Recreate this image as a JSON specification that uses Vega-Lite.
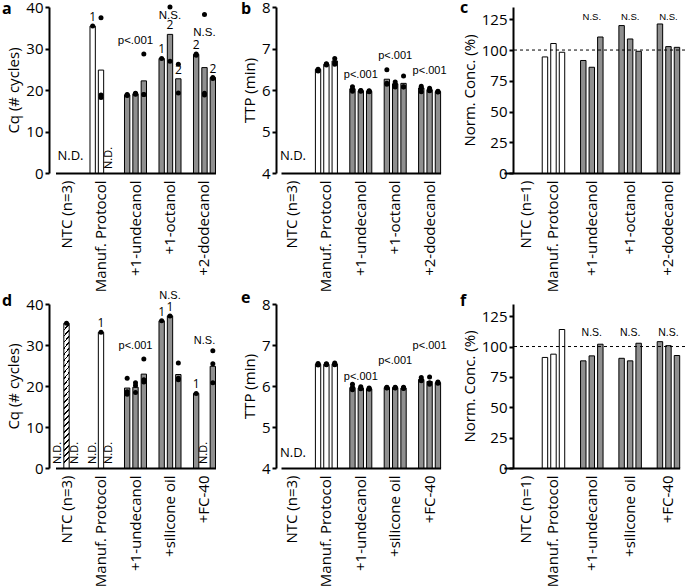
{
"$schema":"https://vega.github.io/schema/vega-lite/v6.json",
"padding":{"left":2,"top":0,"right":0,"bottom":0},
"datasets":{
"bars":[
{"p":"a","g":"Manuf. Protocol","r":1,"v":35.4,"k":"Manuf"},
{"p":"a","g":"Manuf. Protocol","r":2,"v":24.8,"k":"Manuf"},
{"p":"a","g":"+1-undecanol","r":1,"v":18.8,"k":"Additive"},
{"p":"a","g":"+1-undecanol","r":2,"v":19.1,"k":"Additive"},
{"p":"a","g":"+1-undecanol","r":3,"v":22.2,"k":"Additive"},
{"p":"a","g":"+1-octanol","r":1,"v":27.6,"k":"Additive"},
{"p":"a","g":"+1-octanol","r":2,"v":33.4,"k":"Additive"},
{"p":"a","g":"+1-octanol","r":3,"v":22.7,"k":"Additive"},
{"p":"a","g":"+2-dodecanol","r":1,"v":28.6,"k":"Additive"},
{"p":"a","g":"+2-dodecanol","r":2,"v":25.4,"k":"Additive"},
{"p":"a","g":"+2-dodecanol","r":3,"v":23.0,"k":"Additive"},
{"p":"b","g":"Manuf. Protocol","r":1,"v":6.50,"k":"Manuf"},
{"p":"b","g":"Manuf. Protocol","r":2,"v":6.62,"k":"Manuf"},
{"p":"b","g":"Manuf. Protocol","r":3,"v":6.70,"k":"Manuf"},
{"p":"b","g":"+1-undecanol","r":1,"v":6.03,"k":"Additive"},
{"p":"b","g":"+1-undecanol","r":2,"v":5.98,"k":"Additive"},
{"p":"b","g":"+1-undecanol","r":3,"v":5.97,"k":"Additive"},
{"p":"b","g":"+1-octanol","r":1,"v":6.26,"k":"Additive"},
{"p":"b","g":"+1-octanol","r":2,"v":6.15,"k":"Additive"},
{"p":"b","g":"+1-octanol","r":3,"v":6.16,"k":"Additive"},
{"p":"b","g":"+2-dodecanol","r":1,"v":6.05,"k":"Additive"},
{"p":"b","g":"+2-dodecanol","r":2,"v":6.01,"k":"Additive"},
{"p":"b","g":"+2-dodecanol","r":3,"v":5.96,"k":"Additive"},
{"p":"c","g":"Manuf. Protocol","r":1,"v":94.4,"k":"Manuf"},
{"p":"c","g":"Manuf. Protocol","r":2,"v":105.3,"k":"Manuf"},
{"p":"c","g":"Manuf. Protocol","r":3,"v":98.2,"k":"Manuf"},
{"p":"c","g":"+1-undecanol","r":1,"v":91.5,"k":"Additive"},
{"p":"c","g":"+1-undecanol","r":2,"v":86.0,"k":"Additive"},
{"p":"c","g":"+1-undecanol","r":3,"v":110.6,"k":"Additive"},
{"p":"c","g":"+1-octanol","r":1,"v":119.9,"k":"Additive"},
{"p":"c","g":"+1-octanol","r":2,"v":109.0,"k":"Additive"},
{"p":"c","g":"+1-octanol","r":3,"v":99.0,"k":"Additive"},
{"p":"c","g":"+2-dodecanol","r":1,"v":121.2,"k":"Additive"},
{"p":"c","g":"+2-dodecanol","r":2,"v":102.8,"k":"Additive"},
{"p":"c","g":"+2-dodecanol","r":3,"v":102.2,"k":"Additive"},
{"p":"d","g":"NTC (n=3)","r":2,"v":35.3,"k":"NTC"},
{"p":"d","g":"Manuf. Protocol","r":2,"v":33.1,"k":"Manuf"},
{"p":"d","g":"+1-undecanol","r":1,"v":19.5,"k":"Additive"},
{"p":"d","g":"+1-undecanol","r":2,"v":19.7,"k":"Additive"},
{"p":"d","g":"+1-undecanol","r":3,"v":22.9,"k":"Additive"},
{"p":"d","g":"+silicone oil","r":1,"v":35.9,"k":"Additive"},
{"p":"d","g":"+silicone oil","r":2,"v":37.1,"k":"Additive"},
{"p":"d","g":"+silicone oil","r":3,"v":22.8,"k":"Additive"},
{"p":"d","g":"+FC-40","r":1,"v":18.2,"k":"Additive"},
{"p":"d","g":"+FC-40","r":3,"v":24.8,"k":"Additive"},
{"p":"e","g":"Manuf. Protocol","r":1,"v":6.53,"k":"Manuf"},
{"p":"e","g":"Manuf. Protocol","r":2,"v":6.53,"k":"Manuf"},
{"p":"e","g":"Manuf. Protocol","r":3,"v":6.54,"k":"Manuf"},
{"p":"e","g":"+1-undecanol","r":1,"v":5.96,"k":"Additive"},
{"p":"e","g":"+1-undecanol","r":2,"v":5.95,"k":"Additive"},
{"p":"e","g":"+1-undecanol","r":3,"v":5.93,"k":"Additive"},
{"p":"e","g":"+silicone oil","r":1,"v":5.96,"k":"Additive"},
{"p":"e","g":"+silicone oil","r":2,"v":5.96,"k":"Additive"},
{"p":"e","g":"+silicone oil","r":3,"v":5.95,"k":"Additive"},
{"p":"e","g":"+FC-40","r":1,"v":6.16,"k":"Additive"},
{"p":"e","g":"+FC-40","r":2,"v":6.11,"k":"Additive"},
{"p":"e","g":"+FC-40","r":3,"v":6.08,"k":"Additive"},
{"p":"f","g":"Manuf. Protocol","r":1,"v":91.0,"k":"Manuf"},
{"p":"f","g":"Manuf. Protocol","r":2,"v":93.7,"k":"Manuf"},
{"p":"f","g":"Manuf. Protocol","r":3,"v":114.0,"k":"Manuf"},
{"p":"f","g":"+1-undecanol","r":1,"v":88.2,"k":"Additive"},
{"p":"f","g":"+1-undecanol","r":2,"v":92.3,"k":"Additive"},
{"p":"f","g":"+1-undecanol","r":3,"v":101.9,"k":"Additive"},
{"p":"f","g":"+silicone oil","r":1,"v":90.3,"k":"Additive"},
{"p":"f","g":"+silicone oil","r":2,"v":88.2,"k":"Additive"},
{"p":"f","g":"+silicone oil","r":3,"v":102.7,"k":"Additive"},
{"p":"f","g":"+FC-40","r":1,"v":104.0,"k":"Additive"},
{"p":"f","g":"+FC-40","r":2,"v":100.7,"k":"Additive"},
{"p":"f","g":"+FC-40","r":3,"v":92.6,"k":"Additive"}
],
"pts":[
{"p":"a","g":"Manuf. Protocol","r":1,"v":35.4},
{"p":"a","g":"Manuf. Protocol","r":2,"v":37.4},
{"p":"a","g":"Manuf. Protocol","r":2,"v":18.8},
{"p":"a","g":"Manuf. Protocol","r":2,"v":18.2},
{"p":"a","g":"+1-undecanol","r":1,"v":18.8},
{"p":"a","g":"+1-undecanol","r":1,"v":18.7},
{"p":"a","g":"+1-undecanol","r":1,"v":18.9},
{"p":"a","g":"+1-undecanol","r":2,"v":19.1},
{"p":"a","g":"+1-undecanol","r":2,"v":19.2},
{"p":"a","g":"+1-undecanol","r":2,"v":19.0},
{"p":"a","g":"+1-undecanol","r":3,"v":28.7},
{"p":"a","g":"+1-undecanol","r":3,"v":18.9},
{"p":"a","g":"+1-undecanol","r":3,"v":18.9},
{"p":"a","g":"+1-octanol","r":1,"v":27.6},
{"p":"a","g":"+1-octanol","r":2,"v":40.0},
{"p":"a","g":"+1-octanol","r":2,"v":26.9},
{"p":"a","g":"+1-octanol","r":3,"v":26.2},
{"p":"a","g":"+1-octanol","r":3,"v":19.3},
{"p":"a","g":"+2-dodecanol","r":1,"v":28.7},
{"p":"a","g":"+2-dodecanol","r":1,"v":28.4},
{"p":"a","g":"+2-dodecanol","r":2,"v":38.2},
{"p":"a","g":"+2-dodecanol","r":2,"v":19.2},
{"p":"a","g":"+2-dodecanol","r":2,"v":18.8},
{"p":"a","g":"+2-dodecanol","r":3,"v":23.0},
{"p":"a","g":"+2-dodecanol","r":3,"v":22.8},
{"p":"b","g":"Manuf. Protocol","r":1,"v":6.50},
{"p":"b","g":"Manuf. Protocol","r":1,"v":6.46},
{"p":"b","g":"Manuf. Protocol","r":1,"v":6.48},
{"p":"b","g":"Manuf. Protocol","r":2,"v":6.62},
{"p":"b","g":"Manuf. Protocol","r":2,"v":6.60},
{"p":"b","g":"Manuf. Protocol","r":2,"v":6.63},
{"p":"b","g":"Manuf. Protocol","r":3,"v":6.76},
{"p":"b","g":"Manuf. Protocol","r":3,"v":6.66},
{"p":"b","g":"Manuf. Protocol","r":3,"v":6.62},
{"p":"b","g":"+1-undecanol","r":1,"v":6.08},
{"p":"b","g":"+1-undecanol","r":1,"v":6.01},
{"p":"b","g":"+1-undecanol","r":1,"v":5.97},
{"p":"b","g":"+1-undecanol","r":2,"v":5.99},
{"p":"b","g":"+1-undecanol","r":2,"v":5.97},
{"p":"b","g":"+1-undecanol","r":2,"v":5.98},
{"p":"b","g":"+1-undecanol","r":3,"v":5.98},
{"p":"b","g":"+1-undecanol","r":3,"v":5.97},
{"p":"b","g":"+1-undecanol","r":3,"v":5.96},
{"p":"b","g":"+1-octanol","r":1,"v":6.49},
{"p":"b","g":"+1-octanol","r":1,"v":6.16},
{"p":"b","g":"+1-octanol","r":1,"v":6.14},
{"p":"b","g":"+1-octanol","r":2,"v":6.19},
{"p":"b","g":"+1-octanol","r":2,"v":6.13},
{"p":"b","g":"+1-octanol","r":2,"v":6.07},
{"p":"b","g":"+1-octanol","r":3,"v":6.34},
{"p":"b","g":"+1-octanol","r":3,"v":6.08},
{"p":"b","g":"+1-octanol","r":3,"v":6.07},
{"p":"b","g":"+2-dodecanol","r":1,"v":6.09},
{"p":"b","g":"+2-dodecanol","r":1,"v":6.04},
{"p":"b","g":"+2-dodecanol","r":1,"v":5.96},
{"p":"b","g":"+2-dodecanol","r":2,"v":6.04},
{"p":"b","g":"+2-dodecanol","r":2,"v":5.99},
{"p":"b","g":"+2-dodecanol","r":2,"v":5.98},
{"p":"b","g":"+2-dodecanol","r":3,"v":5.97},
{"p":"b","g":"+2-dodecanol","r":3,"v":5.95},
{"p":"b","g":"+2-dodecanol","r":3,"v":5.96},
{"p":"d","g":"NTC (n=3)","r":2,"v":35.3},
{"p":"d","g":"Manuf. Protocol","r":2,"v":33.1},
{"p":"d","g":"+1-undecanol","r":1,"v":21.9},
{"p":"d","g":"+1-undecanol","r":1,"v":18.6},
{"p":"d","g":"+1-undecanol","r":1,"v":18.0},
{"p":"d","g":"+1-undecanol","r":2,"v":20.8},
{"p":"d","g":"+1-undecanol","r":2,"v":20.1},
{"p":"d","g":"+1-undecanol","r":2,"v":18.4},
{"p":"d","g":"+1-undecanol","r":3,"v":26.6},
{"p":"d","g":"+1-undecanol","r":3,"v":21.5},
{"p":"d","g":"+1-undecanol","r":3,"v":21.0},
{"p":"d","g":"+silicone oil","r":1,"v":35.9},
{"p":"d","g":"+silicone oil","r":2,"v":37.1},
{"p":"d","g":"+silicone oil","r":3,"v":25.6},
{"p":"d","g":"+silicone oil","r":3,"v":21.9},
{"p":"d","g":"+silicone oil","r":3,"v":21.5},
{"p":"d","g":"+FC-40","r":1,"v":18.2},
{"p":"d","g":"+FC-40","r":3,"v":28.6},
{"p":"d","g":"+FC-40","r":3,"v":25.4},
{"p":"d","g":"+FC-40","r":3,"v":20.8},
{"p":"e","g":"Manuf. Protocol","r":1,"v":6.53},
{"p":"e","g":"Manuf. Protocol","r":1,"v":6.51},
{"p":"e","g":"Manuf. Protocol","r":1,"v":6.55},
{"p":"e","g":"Manuf. Protocol","r":2,"v":6.53},
{"p":"e","g":"Manuf. Protocol","r":2,"v":6.52},
{"p":"e","g":"Manuf. Protocol","r":2,"v":6.54},
{"p":"e","g":"Manuf. Protocol","r":3,"v":6.56},
{"p":"e","g":"Manuf. Protocol","r":3,"v":6.52},
{"p":"e","g":"Manuf. Protocol","r":3,"v":6.53},
{"p":"e","g":"+1-undecanol","r":1,"v":6.04},
{"p":"e","g":"+1-undecanol","r":1,"v":5.97},
{"p":"e","g":"+1-undecanol","r":1,"v":5.91},
{"p":"e","g":"+1-undecanol","r":2,"v":5.98},
{"p":"e","g":"+1-undecanol","r":2,"v":5.95},
{"p":"e","g":"+1-undecanol","r":2,"v":5.93},
{"p":"e","g":"+1-undecanol","r":3,"v":5.95},
{"p":"e","g":"+1-undecanol","r":3,"v":5.93},
{"p":"e","g":"+1-undecanol","r":3,"v":5.92},
{"p":"e","g":"+silicone oil","r":1,"v":5.97},
{"p":"e","g":"+silicone oil","r":1,"v":5.95},
{"p":"e","g":"+silicone oil","r":1,"v":5.96},
{"p":"e","g":"+silicone oil","r":2,"v":5.97},
{"p":"e","g":"+silicone oil","r":2,"v":5.96},
{"p":"e","g":"+silicone oil","r":2,"v":5.95},
{"p":"e","g":"+silicone oil","r":3,"v":5.97},
{"p":"e","g":"+silicone oil","r":3,"v":5.94},
{"p":"e","g":"+silicone oil","r":3,"v":5.95},
{"p":"e","g":"+FC-40","r":1,"v":6.21},
{"p":"e","g":"+FC-40","r":1,"v":6.15},
{"p":"e","g":"+FC-40","r":1,"v":6.13},
{"p":"e","g":"+FC-40","r":2,"v":6.22},
{"p":"e","g":"+FC-40","r":2,"v":6.08},
{"p":"e","g":"+FC-40","r":2,"v":6.04},
{"p":"e","g":"+FC-40","r":3,"v":6.10},
{"p":"e","g":"+FC-40","r":3,"v":6.08},
{"p":"e","g":"+FC-40","r":3,"v":6.07}
],
"cnt":[
{"p":"a","g":"Manuf. Protocol","r":1,"v":35.4,"t":"1"},
{"p":"a","g":"+1-octanol","r":1,"v":27.6,"t":"1"},
{"p":"a","g":"+1-octanol","r":2,"v":33.4,"t":"2"},
{"p":"a","g":"+1-octanol","r":3,"v":22.7,"t":"2"},
{"p":"a","g":"+2-dodecanol","r":1,"v":28.6,"t":"2"},
{"p":"a","g":"+2-dodecanol","r":3,"v":23.0,"t":"2"},
{"p":"d","g":"Manuf. Protocol","r":2,"v":33.1,"t":"1"},
{"p":"d","g":"+silicone oil","r":1,"v":35.9,"t":"1"},
{"p":"d","g":"+silicone oil","r":2,"v":37.1,"t":"1"},
{"p":"d","g":"+FC-40","r":1,"v":18.2,"t":"1"}
],
"nd":[
{"p":"a","g":"Manuf. Protocol","r":3,"v":0,"t":"N.D."},
{"p":"d","g":"NTC (n=3)","r":1,"v":0,"t":"N.D."},
{"p":"d","g":"NTC (n=3)","r":3,"v":0,"t":"N.D."},
{"p":"d","g":"Manuf. Protocol","r":1,"v":0,"t":"N.D."},
{"p":"d","g":"Manuf. Protocol","r":3,"v":0,"t":"N.D."},
{"p":"d","g":"+FC-40","r":2,"v":0,"t":"N.D."}
],
"ndg":[
{"p":"a","g":"NTC (n=3)","v":0,"t":"N.D."},
{"p":"b","g":"NTC (n=3)","v":4,"t":"N.D."},
{"p":"e","g":"NTC (n=3)","v":4,"t":"N.D."}
],
"ann":[
{"p":"a","g":"+1-undecanol","v":31.8,"t":"p<.001"},
{"p":"a","g":"+1-octanol","v":37.8,"t":"N.S."},
{"p":"a","g":"+2-dodecanol","v":33.8,"t":"N.S."},
{"p":"b","g":"+1-undecanol","v":6.36,"t":"p<.001"},
{"p":"b","g":"+1-octanol","v":6.82,"t":"p<.001"},
{"p":"b","g":"+2-dodecanol","v":6.46,"t":"p<.001"},
{"p":"c","g":"+1-undecanol","v":126.6,"t":"N.S."},
{"p":"c","g":"+1-octanol","v":126.6,"t":"N.S."},
{"p":"c","g":"+2-dodecanol","v":126.6,"t":"N.S."},
{"p":"d","g":"+1-undecanol","v":29.7,"t":"p<.001"},
{"p":"d","g":"+silicone oil","v":42.0,"t":"N.S."},
{"p":"d","g":"+FC-40","v":30.9,"t":"N.S."},
{"p":"e","g":"+1-undecanol","v":6.23,"t":"p<.001"},
{"p":"e","g":"+silicone oil","v":6.62,"t":"p<.001"},
{"p":"e","g":"+FC-40","v":6.97,"t":"p<.001"},
{"p":"f","g":"+1-undecanol","v":111.4,"t":"N.S."},
{"p":"f","g":"+silicone oil","v":111.4,"t":"N.S."},
{"p":"f","g":"+FC-40","v":111.4,"t":"N.S."}
],
"ref":[{"p":"c","v":100},{"p":"f","v":100}]
},
"spacing":-3,
"resolve":{"scale":{"xOffset":"independent"}},
"vconcat":[
{"spacing":13,"resolve":{"scale":{"xOffset":"independent"}},"hconcat":[
{"spacing":20,"resolve":{"scale":{"xOffset":"independent"}},"hconcat":[
{"width":172,"height":166,
"title":{"text":"a","anchor":"start","frame":"group","dx":-47,"offset":-17},
"layer":[
{"data":{"name":"bars"},"transform":[{"filter":"datum.p=='a'"}],
"mark":{"type":"bar","stroke":"black","strokeWidth":1},
"encoding":{
"x":{"field":"g","type":"nominal","title":null,"scale":{"domain":["NTC (n=3)","Manuf. Protocol","+1-undecanol","+1-octanol","+2-dodecanol"],"range":[6.5,166.5],"paddingInner":0.362,"paddingOuter":0},"axis":{"ticks":false,"labelAngle":-90,"labelPadding":7,"labelOverlap":false}},
"xOffset":{"field":"r","type":"nominal","scale":{"domain":[1,2,3],"paddingInner":0.36,"paddingOuter":0}},
"y":{"field":"v","type":"quantitative","title":"Cq (# cycles)","scale":{"domain":[0,40],"nice":false},"axis":{"values":[0,10,20,30,40]}},
"fill":{"field":"k","type":"nominal","scale":{"domain":["Manuf","Additive"],"range":["white","#8f8f8f"]},"legend":null}}},
{"data":{"name":"pts"},"transform":[{"filter":"datum.p=='a'"}],
"mark":{"type":"circle","size":25,"color":"black","opacity":1},
"encoding":{
"x":{"field":"g","type":"nominal","title":null,"scale":{"domain":["NTC (n=3)","Manuf. Protocol","+1-undecanol","+1-octanol","+2-dodecanol"],"range":[6.5,166.5],"paddingInner":0.362,"paddingOuter":0},"axis":{"ticks":false,"labelAngle":-90,"labelPadding":7,"labelOverlap":false}},
"xOffset":{"field":"r","type":"nominal","scale":{"domain":[1,2,3],"paddingInner":0.36,"paddingOuter":0}},
"y":{"field":"v","type":"quantitative","title":"Cq (# cycles)","scale":{"domain":[0,40],"nice":false},"axis":{"values":[0,10,20,30,40]}}}},
{"data":{"name":"cnt"},"transform":[{"filter":"datum.p=='a'"}],
"mark":{"type":"text","baseline":"bottom","dy":-2,"fontSize":12,"font":"Open Sans","color":"black"},
"encoding":{
"x":{"field":"g","type":"nominal","title":null,"scale":{"domain":["NTC (n=3)","Manuf. Protocol","+1-undecanol","+1-octanol","+2-dodecanol"],"range":[6.5,166.5],"paddingInner":0.362,"paddingOuter":0},"axis":{"ticks":false,"labelAngle":-90,"labelPadding":7,"labelOverlap":false}},
"xOffset":{"field":"r","type":"nominal","scale":{"domain":[1,2,3],"paddingInner":0.36,"paddingOuter":0}},
"y":{"field":"v","type":"quantitative","title":"Cq (# cycles)","scale":{"domain":[0,40],"nice":false},"axis":{"values":[0,10,20,30,40]}},
"text":{"field":"t"}}},
{"data":{"name":"nd"},"transform":[{"filter":"datum.p=='a'"}],
"mark":{"type":"text","angle":270,"align":"left","baseline":"middle","dx":4,"fontSize":11,"font":"Open Sans","color":"black"},
"encoding":{
"x":{"field":"g","type":"nominal","title":null,"scale":{"domain":["NTC (n=3)","Manuf. Protocol","+1-undecanol","+1-octanol","+2-dodecanol"],"range":[6.5,166.5],"paddingInner":0.362,"paddingOuter":0},"axis":{"ticks":false,"labelAngle":-90,"labelPadding":7,"labelOverlap":false}},
"xOffset":{"field":"r","type":"nominal","scale":{"domain":[1,2,3],"paddingInner":0.36,"paddingOuter":0}},
"y":{"field":"v","type":"quantitative","title":"Cq (# cycles)","scale":{"domain":[0,40],"nice":false},"axis":{"values":[0,10,20,30,40]}},
"text":{"field":"t"}}},
{"data":{"name":"ndg"},"transform":[{"filter":"datum.p=='a'"}],
"mark":{"type":"text","baseline":"bottom","dy":-10,"dx":4,"fontSize":13,"font":"Open Sans","color":"black"},
"encoding":{
"x":{"field":"g","type":"nominal","title":null,"scale":{"domain":["NTC (n=3)","Manuf. Protocol","+1-undecanol","+1-octanol","+2-dodecanol"],"range":[6.5,166.5],"paddingInner":0.362,"paddingOuter":0},"axis":{"ticks":false,"labelAngle":-90,"labelPadding":7,"labelOverlap":false}},
"y":{"field":"v","type":"quantitative","title":"Cq (# cycles)","scale":{"domain":[0,40],"nice":false},"axis":{"values":[0,10,20,30,40]}},
"text":{"field":"t"}}},
{"data":{"name":"ann"},"transform":[{"filter":"datum.p=='a'"}],
"mark":{"type":"text","baseline":"middle","fontSize":11.5,"font":"Liberation Sans","color":"black"},
"encoding":{
"x":{"field":"g","type":"nominal","title":null,"scale":{"domain":["NTC (n=3)","Manuf. Protocol","+1-undecanol","+1-octanol","+2-dodecanol"],"range":[6.5,166.5],"paddingInner":0.362,"paddingOuter":0},"axis":{"ticks":false,"labelAngle":-90,"labelPadding":7,"labelOverlap":false}},
"y":{"field":"v","type":"quantitative","title":"Cq (# cycles)","scale":{"domain":[0,40],"nice":false},"axis":{"values":[0,10,20,30,40]}},
"text":{"field":"t"}}}
]},
{"width":170,"height":166,
"title":{"text":"b","anchor":"start","frame":"group","dx":-35,"offset":-17},
"layer":[
{"data":{"name":"bars"},"transform":[{"filter":"datum.p=='b'"}],
"mark":{"type":"bar","stroke":"black","strokeWidth":1},
"encoding":{
"x":{"field":"g","type":"nominal","title":null,"scale":{"domain":["NTC (n=3)","Manuf. Protocol","+1-undecanol","+1-octanol","+2-dodecanol"],"range":[5,164.6],"paddingInner":0.36,"paddingOuter":0},"axis":{"ticks":false,"labelAngle":-90,"labelPadding":7,"labelOverlap":false}},
"xOffset":{"field":"r","type":"nominal","scale":{"domain":[1,2,3],"paddingInner":0.36,"paddingOuter":0}},
"y":{"field":"v","type":"quantitative","title":"TTP (min)","scale":{"domain":[4,8],"zero":false,"nice":false},"axis":{"values":[4,5,6,7,8]}},
"y2":{"datum":4},
"fill":{"field":"k","type":"nominal","scale":{"domain":["Manuf","Additive"],"range":["white","#8f8f8f"]},"legend":null}}},
{"data":{"name":"pts"},"transform":[{"filter":"datum.p=='b'"}],
"mark":{"type":"circle","size":25,"color":"black","opacity":1},
"encoding":{
"x":{"field":"g","type":"nominal","title":null,"scale":{"domain":["NTC (n=3)","Manuf. Protocol","+1-undecanol","+1-octanol","+2-dodecanol"],"range":[5,164.6],"paddingInner":0.36,"paddingOuter":0},"axis":{"ticks":false,"labelAngle":-90,"labelPadding":7,"labelOverlap":false}},
"xOffset":{"field":"r","type":"nominal","scale":{"domain":[1,2,3],"paddingInner":0.36,"paddingOuter":0}},
"y":{"field":"v","type":"quantitative","title":"TTP (min)","scale":{"domain":[4,8],"zero":false,"nice":false},"axis":{"values":[4,5,6,7,8]}}}},
{"data":{"name":"ndg"},"transform":[{"filter":"datum.p=='b'"}],
"mark":{"type":"text","baseline":"bottom","dy":-10,"dx":1,"fontSize":13,"font":"Open Sans","color":"black"},
"encoding":{
"x":{"field":"g","type":"nominal","title":null,"scale":{"domain":["NTC (n=3)","Manuf. Protocol","+1-undecanol","+1-octanol","+2-dodecanol"],"range":[5,164.6],"paddingInner":0.36,"paddingOuter":0},"axis":{"ticks":false,"labelAngle":-90,"labelPadding":7,"labelOverlap":false}},
"y":{"field":"v","type":"quantitative","title":"TTP (min)","scale":{"domain":[4,8],"zero":false,"nice":false},"axis":{"values":[4,5,6,7,8]}},
"text":{"field":"t"}}},
{"data":{"name":"ann"},"transform":[{"filter":"datum.p=='b'"}],
"mark":{"type":"text","baseline":"middle","fontSize":11,"font":"Liberation Sans","color":"black"},
"encoding":{
"x":{"field":"g","type":"nominal","title":null,"scale":{"domain":["NTC (n=3)","Manuf. Protocol","+1-undecanol","+1-octanol","+2-dodecanol"],"range":[5,164.6],"paddingInner":0.36,"paddingOuter":0},"axis":{"ticks":false,"labelAngle":-90,"labelPadding":7,"labelOverlap":false}},
"y":{"field":"v","type":"quantitative","title":"TTP (min)","scale":{"domain":[4,8],"zero":false,"nice":false},"axis":{"values":[4,5,6,7,8]}},
"text":{"field":"t"}}}
]}
]},
{"width":172,"height":166,
"title":{"text":"c","anchor":"start","frame":"group","dx":-53,"offset":-9},
"layer":[
{"data":{"name":"bars"},"transform":[{"filter":"datum.p=='c'"}],
"mark":{"type":"bar","stroke":"black","strokeWidth":1},
"encoding":{
"x":{"field":"g","type":"nominal","title":null,"scale":{"domain":["NTC (n=1)","Manuf. Protocol","+1-undecanol","+1-octanol","+2-dodecanol"],"range":[-9.1,166.7],"paddingInner":0.413,"paddingOuter":0},"axis":{"ticks":false,"labelAngle":-90,"labelPadding":7,"labelOverlap":false,"labelOffset":{"condition":{"test":"datum.value==='NTC (n=1)'","value":11},"value":0}}},
"xOffset":{"field":"r","type":"nominal","scale":{"domain":[1,2,3],"paddingInner":0.36,"paddingOuter":0}},
"y":{"field":"v","type":"quantitative","title":"Norm. Conc. (%)","scale":{"domain":[0,135],"nice":false},"axis":{"values":[0,25,50,75,100,125]}},
"fill":{"field":"k","type":"nominal","scale":{"domain":["Manuf","Additive"],"range":["white","#8f8f8f"]},"legend":null}}},
{"data":{"name":"ref"},"transform":[{"filter":"datum.p=='c'"}],
"mark":{"type":"rule","strokeDash":[3,3],"strokeWidth":1,"color":"black"},
"encoding":{
"y":{"field":"v","type":"quantitative","title":"Norm. Conc. (%)","scale":{"domain":[0,135],"nice":false},"axis":{"values":[0,25,50,75,100,125]}}}},
{"data":{"name":"ann"},"transform":[{"filter":"datum.p=='c'"}],
"mark":{"type":"text","baseline":"middle","fontSize":9.5,"font":"Liberation Sans","color":"black"},
"encoding":{
"x":{"field":"g","type":"nominal","title":null,"scale":{"domain":["NTC (n=1)","Manuf. Protocol","+1-undecanol","+1-octanol","+2-dodecanol"],"range":[-9.1,166.7],"paddingInner":0.413,"paddingOuter":0},"axis":{"ticks":false,"labelAngle":-90,"labelPadding":7,"labelOverlap":false,"labelOffset":{"condition":{"test":"datum.value==='NTC (n=1)'","value":11},"value":0}}},
"y":{"field":"v","type":"quantitative","title":"Norm. Conc. (%)","scale":{"domain":[0,135],"nice":false},"axis":{"values":[0,25,50,75,100,125]}},
"text":{"field":"t"}}}
]}
]},
{"spacing":13,"resolve":{"scale":{"xOffset":"independent"}},"hconcat":[
{"spacing":20,"resolve":{"scale":{"xOffset":"independent"}},"hconcat":[
{"width":172,"height":164,
"title":{"text":"d","anchor":"start","frame":"group","dx":-47,"offset":-19},
"layer":[
{"data":{"name":"bars"},"transform":[{"filter":"datum.p=='d' && datum.k!='NTC'"}],
"mark":{"type":"bar","stroke":"black","strokeWidth":1},
"encoding":{
"x":{"field":"g","type":"nominal","title":null,"scale":{"domain":["NTC (n=3)","Manuf. Protocol","+1-undecanol","+silicone oil","+FC-40"],"range":[6.5,166.5],"paddingInner":0.362,"paddingOuter":0},"axis":{"ticks":false,"labelAngle":-90,"labelPadding":7,"labelOverlap":false}},
"xOffset":{"field":"r","type":"nominal","scale":{"domain":[1,2,3],"paddingInner":0.36,"paddingOuter":0}},
"y":{"field":"v","type":"quantitative","title":"Cq (# cycles)","scale":{"domain":[0,40],"nice":false},"axis":{"values":[0,10,20,30,40]}},
"fill":{"field":"k","type":"nominal","scale":{"domain":["Manuf","Additive"],"range":["white","#8f8f8f"]},"legend":null}}},
{"data":{"name":"bars"},"transform":[{"filter":"datum.p=='d' && datum.k=='NTC'"}],
"mark":{"type":"bar","stroke":"black","strokeWidth":1,"fill":{"gradient":"linear","x1":0,"y1":0,"x2":0.041,"y2":1,"stops":[
{"offset":0,"color":"#000"},{"offset":0.0125,"color":"#000"},{"offset":0.0125,"color":"#fff"},{"offset":0.0417,"color":"#fff"},
{"offset":0.0417,"color":"#000"},{"offset":0.0542,"color":"#000"},{"offset":0.0542,"color":"#fff"},{"offset":0.0833,"color":"#fff"},
{"offset":0.0833,"color":"#000"},{"offset":0.0958,"color":"#000"},{"offset":0.0958,"color":"#fff"},{"offset":0.125,"color":"#fff"},
{"offset":0.125,"color":"#000"},{"offset":0.1375,"color":"#000"},{"offset":0.1375,"color":"#fff"},{"offset":0.1667,"color":"#fff"},
{"offset":0.1667,"color":"#000"},{"offset":0.1792,"color":"#000"},{"offset":0.1792,"color":"#fff"},{"offset":0.2083,"color":"#fff"},
{"offset":0.2083,"color":"#000"},{"offset":0.2208,"color":"#000"},{"offset":0.2208,"color":"#fff"},{"offset":0.25,"color":"#fff"},
{"offset":0.25,"color":"#000"},{"offset":0.2625,"color":"#000"},{"offset":0.2625,"color":"#fff"},{"offset":0.2917,"color":"#fff"},
{"offset":0.2917,"color":"#000"},{"offset":0.3042,"color":"#000"},{"offset":0.3042,"color":"#fff"},{"offset":0.3333,"color":"#fff"},
{"offset":0.3333,"color":"#000"},{"offset":0.3458,"color":"#000"},{"offset":0.3458,"color":"#fff"},{"offset":0.375,"color":"#fff"},
{"offset":0.375,"color":"#000"},{"offset":0.3875,"color":"#000"},{"offset":0.3875,"color":"#fff"},{"offset":0.4167,"color":"#fff"},
{"offset":0.4167,"color":"#000"},{"offset":0.4292,"color":"#000"},{"offset":0.4292,"color":"#fff"},{"offset":0.4583,"color":"#fff"},
{"offset":0.4583,"color":"#000"},{"offset":0.4708,"color":"#000"},{"offset":0.4708,"color":"#fff"},{"offset":0.5,"color":"#fff"},
{"offset":0.5,"color":"#000"},{"offset":0.5125,"color":"#000"},{"offset":0.5125,"color":"#fff"},{"offset":0.5417,"color":"#fff"},
{"offset":0.5417,"color":"#000"},{"offset":0.5542,"color":"#000"},{"offset":0.5542,"color":"#fff"},{"offset":0.5833,"color":"#fff"},
{"offset":0.5833,"color":"#000"},{"offset":0.5958,"color":"#000"},{"offset":0.5958,"color":"#fff"},{"offset":0.625,"color":"#fff"},
{"offset":0.625,"color":"#000"},{"offset":0.6375,"color":"#000"},{"offset":0.6375,"color":"#fff"},{"offset":0.6667,"color":"#fff"},
{"offset":0.6667,"color":"#000"},{"offset":0.6792,"color":"#000"},{"offset":0.6792,"color":"#fff"},{"offset":0.7083,"color":"#fff"},
{"offset":0.7083,"color":"#000"},{"offset":0.7208,"color":"#000"},{"offset":0.7208,"color":"#fff"},{"offset":0.75,"color":"#fff"},
{"offset":0.75,"color":"#000"},{"offset":0.7625,"color":"#000"},{"offset":0.7625,"color":"#fff"},{"offset":0.7917,"color":"#fff"},
{"offset":0.7917,"color":"#000"},{"offset":0.8042,"color":"#000"},{"offset":0.8042,"color":"#fff"},{"offset":0.8333,"color":"#fff"},
{"offset":0.8333,"color":"#000"},{"offset":0.8458,"color":"#000"},{"offset":0.8458,"color":"#fff"},{"offset":0.875,"color":"#fff"},
{"offset":0.875,"color":"#000"},{"offset":0.8875,"color":"#000"},{"offset":0.8875,"color":"#fff"},{"offset":0.9167,"color":"#fff"},
{"offset":0.9167,"color":"#000"},{"offset":0.9292,"color":"#000"},{"offset":0.9292,"color":"#fff"},{"offset":0.9583,"color":"#fff"},
{"offset":0.9583,"color":"#000"},{"offset":0.9708,"color":"#000"},{"offset":0.9708,"color":"#fff"},{"offset":1,"color":"#fff"}
]}},
"encoding":{
"x":{"field":"g","type":"nominal","title":null,"scale":{"domain":["NTC (n=3)","Manuf. Protocol","+1-undecanol","+silicone oil","+FC-40"],"range":[6.5,166.5],"paddingInner":0.362,"paddingOuter":0},"axis":{"ticks":false,"labelAngle":-90,"labelPadding":7,"labelOverlap":false}},
"xOffset":{"field":"r","type":"nominal","scale":{"domain":[1,2,3],"paddingInner":0.36,"paddingOuter":0}},
"y":{"field":"v","type":"quantitative","title":"Cq (# cycles)","scale":{"domain":[0,40],"nice":false},"axis":{"values":[0,10,20,30,40]}}}},
{"data":{"name":"pts"},"transform":[{"filter":"datum.p=='d'"}],
"mark":{"type":"circle","size":25,"color":"black","opacity":1},
"encoding":{
"x":{"field":"g","type":"nominal","title":null,"scale":{"domain":["NTC (n=3)","Manuf. Protocol","+1-undecanol","+silicone oil","+FC-40"],"range":[6.5,166.5],"paddingInner":0.362,"paddingOuter":0},"axis":{"ticks":false,"labelAngle":-90,"labelPadding":7,"labelOverlap":false}},
"xOffset":{"field":"r","type":"nominal","scale":{"domain":[1,2,3],"paddingInner":0.36,"paddingOuter":0}},
"y":{"field":"v","type":"quantitative","title":"Cq (# cycles)","scale":{"domain":[0,40],"nice":false},"axis":{"values":[0,10,20,30,40]}}}},
{"data":{"name":"cnt"},"transform":[{"filter":"datum.p=='d'"}],
"mark":{"type":"text","baseline":"bottom","dy":-2,"fontSize":12,"font":"Open Sans","color":"black"},
"encoding":{
"x":{"field":"g","type":"nominal","title":null,"scale":{"domain":["NTC (n=3)","Manuf. Protocol","+1-undecanol","+silicone oil","+FC-40"],"range":[6.5,166.5],"paddingInner":0.362,"paddingOuter":0},"axis":{"ticks":false,"labelAngle":-90,"labelPadding":7,"labelOverlap":false}},
"xOffset":{"field":"r","type":"nominal","scale":{"domain":[1,2,3],"paddingInner":0.36,"paddingOuter":0}},
"y":{"field":"v","type":"quantitative","title":"Cq (# cycles)","scale":{"domain":[0,40],"nice":false},"axis":{"values":[0,10,20,30,40]}},
"text":{"field":"t"}}},
{"data":{"name":"nd"},"transform":[{"filter":"datum.p=='d'"}],
"mark":{"type":"text","angle":270,"align":"left","baseline":"middle","dx":4,"fontSize":11,"font":"Open Sans","color":"black"},
"encoding":{
"x":{"field":"g","type":"nominal","title":null,"scale":{"domain":["NTC (n=3)","Manuf. Protocol","+1-undecanol","+silicone oil","+FC-40"],"range":[6.5,166.5],"paddingInner":0.362,"paddingOuter":0},"axis":{"ticks":false,"labelAngle":-90,"labelPadding":7,"labelOverlap":false}},
"xOffset":{"field":"r","type":"nominal","scale":{"domain":[1,2,3],"paddingInner":0.36,"paddingOuter":0}},
"y":{"field":"v","type":"quantitative","title":"Cq (# cycles)","scale":{"domain":[0,40],"nice":false},"axis":{"values":[0,10,20,30,40]}},
"text":{"field":"t"}}},
{"data":{"name":"ann"},"transform":[{"filter":"datum.p=='d'"}],
"mark":{"type":"text","baseline":"middle","fontSize":11,"font":"Liberation Sans","color":"black"},
"encoding":{
"x":{"field":"g","type":"nominal","title":null,"scale":{"domain":["NTC (n=3)","Manuf. Protocol","+1-undecanol","+silicone oil","+FC-40"],"range":[6.5,166.5],"paddingInner":0.362,"paddingOuter":0},"axis":{"ticks":false,"labelAngle":-90,"labelPadding":7,"labelOverlap":false}},
"y":{"field":"v","type":"quantitative","title":"Cq (# cycles)","scale":{"domain":[0,40],"nice":false},"axis":{"values":[0,10,20,30,40]}},
"text":{"field":"t"}}}
]},
{"width":170,"height":164,
"title":{"text":"e","anchor":"start","frame":"group","dx":-35,"offset":-9},
"layer":[
{"data":{"name":"bars"},"transform":[{"filter":"datum.p=='e'"}],
"mark":{"type":"bar","stroke":"black","strokeWidth":1},
"encoding":{
"x":{"field":"g","type":"nominal","title":null,"scale":{"domain":["NTC (n=3)","Manuf. Protocol","+1-undecanol","+silicone oil","+FC-40"],"range":[5,164.6],"paddingInner":0.36,"paddingOuter":0},"axis":{"ticks":false,"labelAngle":-90,"labelPadding":7,"labelOverlap":false}},
"xOffset":{"field":"r","type":"nominal","scale":{"domain":[1,2,3],"paddingInner":0.36,"paddingOuter":0}},
"y":{"field":"v","type":"quantitative","title":"TTP (min)","scale":{"domain":[4,8],"zero":false,"nice":false},"axis":{"values":[4,5,6,7,8]}},
"y2":{"datum":4},
"fill":{"field":"k","type":"nominal","scale":{"domain":["Manuf","Additive"],"range":["white","#8f8f8f"]},"legend":null}}},
{"data":{"name":"pts"},"transform":[{"filter":"datum.p=='e'"}],
"mark":{"type":"circle","size":25,"color":"black","opacity":1},
"encoding":{
"x":{"field":"g","type":"nominal","title":null,"scale":{"domain":["NTC (n=3)","Manuf. Protocol","+1-undecanol","+silicone oil","+FC-40"],"range":[5,164.6],"paddingInner":0.36,"paddingOuter":0},"axis":{"ticks":false,"labelAngle":-90,"labelPadding":7,"labelOverlap":false}},
"xOffset":{"field":"r","type":"nominal","scale":{"domain":[1,2,3],"paddingInner":0.36,"paddingOuter":0}},
"y":{"field":"v","type":"quantitative","title":"TTP (min)","scale":{"domain":[4,8],"zero":false,"nice":false},"axis":{"values":[4,5,6,7,8]}}}},
{"data":{"name":"ndg"},"transform":[{"filter":"datum.p=='e'"}],
"mark":{"type":"text","baseline":"bottom","dy":-8,"dx":1,"fontSize":13,"font":"Open Sans","color":"black"},
"encoding":{
"x":{"field":"g","type":"nominal","title":null,"scale":{"domain":["NTC (n=3)","Manuf. Protocol","+1-undecanol","+silicone oil","+FC-40"],"range":[5,164.6],"paddingInner":0.36,"paddingOuter":0},"axis":{"ticks":false,"labelAngle":-90,"labelPadding":7,"labelOverlap":false}},
"y":{"field":"v","type":"quantitative","title":"TTP (min)","scale":{"domain":[4,8],"zero":false,"nice":false},"axis":{"values":[4,5,6,7,8]}},
"text":{"field":"t"}}},
{"data":{"name":"ann"},"transform":[{"filter":"datum.p=='e'"}],
"mark":{"type":"text","baseline":"middle","fontSize":11,"font":"Liberation Sans","color":"black"},
"encoding":{
"x":{"field":"g","type":"nominal","title":null,"scale":{"domain":["NTC (n=3)","Manuf. Protocol","+1-undecanol","+silicone oil","+FC-40"],"range":[5,164.6],"paddingInner":0.36,"paddingOuter":0},"axis":{"ticks":false,"labelAngle":-90,"labelPadding":7,"labelOverlap":false}},
"y":{"field":"v","type":"quantitative","title":"TTP (min)","scale":{"domain":[4,8],"zero":false,"nice":false},"axis":{"values":[4,5,6,7,8]}},
"text":{"field":"t"}}}
]}
]},
{"width":172,"height":164,
"title":{"text":"f","anchor":"start","frame":"group","dx":-53,"offset":-5},
"layer":[
{"data":{"name":"bars"},"transform":[{"filter":"datum.p=='f'"}],
"mark":{"type":"bar","stroke":"black","strokeWidth":1},
"encoding":{
"x":{"field":"g","type":"nominal","title":null,"scale":{"domain":["NTC (n=1)","Manuf. Protocol","+1-undecanol","+silicone oil","+FC-40"],"range":[-9.1,166.7],"paddingInner":0.413,"paddingOuter":0},"axis":{"ticks":false,"labelAngle":-90,"labelPadding":7,"labelOverlap":false,"labelOffset":{"condition":{"test":"datum.value==='NTC (n=1)'","value":11},"value":0}}},
"xOffset":{"field":"r","type":"nominal","scale":{"domain":[1,2,3],"paddingInner":0.36,"paddingOuter":0}},
"y":{"field":"v","type":"quantitative","title":"Norm. Conc. (%)","scale":{"domain":[0,135],"nice":false},"axis":{"values":[0,25,50,75,100,125]}},
"fill":{"field":"k","type":"nominal","scale":{"domain":["Manuf","Additive"],"range":["white","#8f8f8f"]},"legend":null}}},
{"data":{"name":"ref"},"transform":[{"filter":"datum.p=='f'"}],
"mark":{"type":"rule","strokeDash":[3,3],"strokeWidth":1,"color":"black"},
"encoding":{
"y":{"field":"v","type":"quantitative","title":"Norm. Conc. (%)","scale":{"domain":[0,135],"nice":false},"axis":{"values":[0,25,50,75,100,125]}}}},
{"data":{"name":"ann"},"transform":[{"filter":"datum.p=='f'"}],
"mark":{"type":"text","baseline":"middle","fontSize":10.5,"font":"Liberation Sans","color":"black"},
"encoding":{
"x":{"field":"g","type":"nominal","title":null,"scale":{"domain":["NTC (n=1)","Manuf. Protocol","+1-undecanol","+silicone oil","+FC-40"],"range":[-9.1,166.7],"paddingInner":0.413,"paddingOuter":0},"axis":{"ticks":false,"labelAngle":-90,"labelPadding":7,"labelOverlap":false,"labelOffset":{"condition":{"test":"datum.value==='NTC (n=1)'","value":11},"value":0}}},
"y":{"field":"v","type":"quantitative","title":"Norm. Conc. (%)","scale":{"domain":[0,135],"nice":false},"axis":{"values":[0,25,50,75,100,125]}},
"text":{"field":"t"}}}
]}
]}
],
"config":{
"view":{"stroke":null},
"axis":{"domainColor":"black","domainWidth":2,"tickColor":"black","tickWidth":2,"tickSize":4,"labelFont":"Open Sans","labelFontSize":15,"labelColor":"black","labelPadding":2,"titleFont":"Open Sans","titleFontSize":15,"titleFontWeight":"normal","titleColor":"black","titlePadding":4,"grid":false},
"axisX":{"labelFontSize":15},
"title":{"font":"Open Sans","fontSize":16,"fontWeight":"bold","color":"black"}
}
}
